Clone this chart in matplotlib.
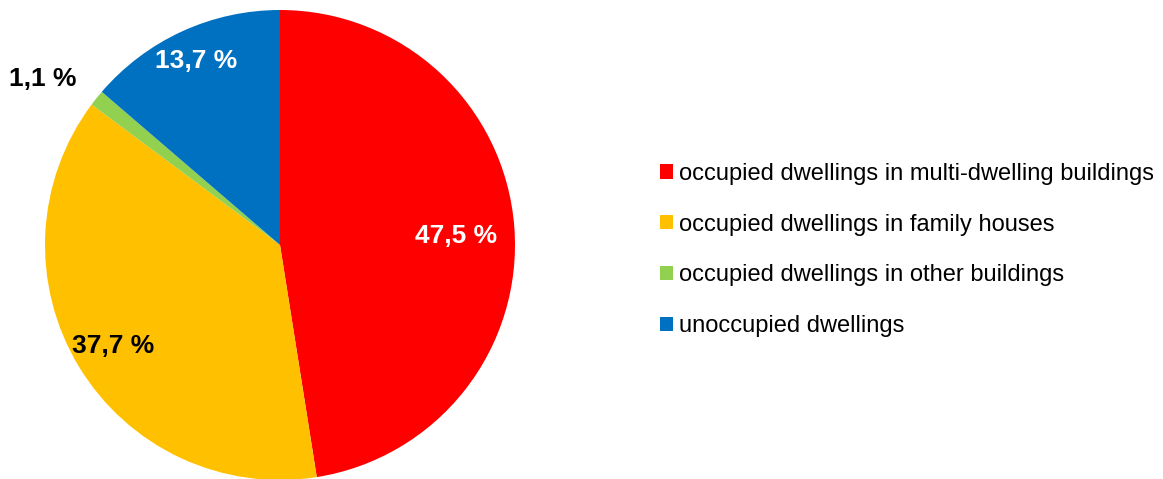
import matplotlib
matplotlib.use('Agg')
import matplotlib.pyplot as plt
import numpy as np

plt.rcParams['font.family'] = ['Liberation Sans', 'DejaVu Sans']

categories = ["occupied dwellings in multi-dwelling buildings",
              "occupied dwellings in family houses",
              "occupied dwellings in other buildings",
              "unoccupied dwellings"]
shares = [47.5, 37.7, 1.1, 13.7]
colors = ["#FF0000", "#FFC000", "#92D050", "#0070C0"]
label_colors = ["white", "black", "black", "white"]
label_radius = [0.75, 0.83, 1.23, 0.86]
label_turn = [-1.5, 0.0, 3.7, 0.0]   # small angular nudge, degrees

fig = plt.figure(figsize=(11.63, 4.79), dpi=100)
ax = fig.add_axes([280/1163 - 235/1163, 1 - 245/479 - 235/479, 470/1163, 470/479])

wedges, _ = ax.pie(shares, colors=colors, startangle=90, counterclock=False,
                   radius=1.0, wedgeprops=dict(linewidth=0))
ax.set_xlim(-1, 1)
ax.set_ylim(-1, 1)
ax.set_aspect('equal')

# percentage labels placed along each wedge's mid angle
for w, v, c, r, t in zip(wedges, shares, label_colors, label_radius, label_turn):
    ang = np.deg2rad((w.theta1 + w.theta2) / 2 + t)
    txt = f"{v:.1f} %".replace(".", ",")
    ax.text(r * np.cos(ang), r * np.sin(ang), txt, color=c, fontsize=19,
            fontweight='bold', ha='center', va='center', clip_on=False)

fig.legend(wedges, categories, loc='center left', bbox_to_anchor=(651/1163, 1 - 250/479),
           frameon=False, fontsize=17, handlelength=0.55, handleheight=0.55,
           handletextpad=0.25, labelspacing=1.22, borderaxespad=0)

plt.savefig("out.png", dpi=100)
